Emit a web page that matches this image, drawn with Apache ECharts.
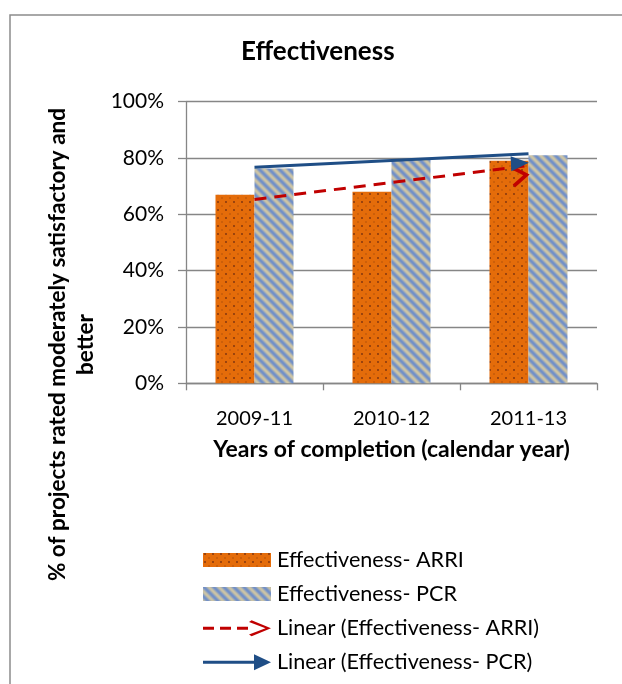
<!DOCTYPE html>
<html>
<head>
<meta charset="utf-8">
<script src="https://cdn.jsdelivr.net/npm/echarts@6/dist/echarts.min.js"></script>
<style>
html,body{margin:0;padding:0;background:#fff;}
#chart{width:622px;height:684px;}
</style>
</head>
<body>
<div id="chart"></div>
<script>
// ---- data ----
const categories = ['2009-11', '2010-12', '2011-13'];
const arriValues = [67, 68, 79];
const pcrValues = [76.3, 79.3, 81];
// linear trend lines, read at the first and last category
const arriTrend = [65.3, 77.3];
const pcrTrend = [76.7, 81.5];
const seriesNames = ['Effectiveness- ARRI', 'Effectiveness- PCR',
  'Linear (Effectiveness- ARRI)', 'Linear (Effectiveness- PCR)'];
const chartTitle = 'Effectiveness';
const xTitle = 'Years of completion (calendar year)';
const yTitle = '% of projects rated moderately satisfactory and\nbetter';

// ---- fill patterns ----
function dotPattern() {
  const c = document.createElement('canvas');
  c.width = 8; c.height = 8;
  const g = c.getContext('2d');
  g.fillStyle = '#E46C0A'; g.fillRect(0, 0, 8, 8);
  g.fillStyle = '#7a3210';
  g.beginPath(); g.arc(2, 2, 0.9, 0, Math.PI * 2); g.fill();
  g.fillStyle = 'rgba(130,55,15,0.55)';
  g.beginPath(); g.arc(6, 6, 0.8, 0, Math.PI * 2); g.fill();
  return c;
}
function stripePattern() {
  const P = 10;
  const c = document.createElement('canvas');
  c.width = P; c.height = P;
  const g = c.getContext('2d');
  const img = g.createImageData(P, P);
  const blue = [112, 143, 200], beige = [206, 197, 165];
  for (let y = 0; y < P; y++) {
    for (let x = 0; x < P; x++) {
      const t = (((x - y) % P) + P) % P / P;
      const w = 0.5 + 0.5 * Math.cos(2 * Math.PI * t);
      const i = (y * P + x) * 4;
      for (let k = 0; k < 3; k++) img.data[i + k] = Math.round(blue[k] * w + beige[k] * (1 - w));
      img.data[i + 3] = 255;
    }
  }
  g.putImageData(img, 0, 0);
  return c;
}

const FONT = 'Lato';
const AXIS_GREY = '#868686';
const chevronUp = 'path://M0,15 L10,0 L20,15 L17.2,16.8 L10,6 L2.8,16.8 Z';
const triangleUp = 'path://M0,17 L7,0 L14,17 Z';

const chart = echarts.init(document.getElementById('chart'), null, {renderer: 'canvas'});
const option = {
  animation: false,
  backgroundColor: '#ffffff',
  textStyle: {fontFamily: FONT, color: '#000'},
  title: {
    text: chartTitle,
    left: 241,
    top: 39,
    padding: 0,
    textStyle: {fontFamily: FONT, fontSize: 26, fontWeight: 'bold', color: '#000'}
  },
  graphic: [{
    type: 'rect', silent: true, z: -10,
    shape: {x: 10, y: 15, width: 700, height: 800},
    style: {fill: 'none', stroke: '#8c8c8c', lineWidth: 1.5}
  }],
  grid: {left: 186, right: 25, top: 101.7, bottom: 300.7, containLabel: false, outerBoundsMode: 'none'},
  legend: {
    orient: 'vertical',
    left: 198,
    top: 544,
    itemWidth: 68,
    itemHeight: 16,
    itemGap: 12.1,
    symbolKeepAspect: true,
    itemStyle: {borderWidth: 0},
    textStyle: {fontFamily: FONT, fontSize: 21.6, color: '#000', padding: [0, 0, 0, 1]},
    data: [
      {name: seriesNames[0], icon: 'path://M0,0h68v14h-68z'},
      {name: seriesNames[1], icon: 'path://M0,0h68v14h-68z'},
      {name: seriesNames[2], icon: 'path://M0,6.5h11v3h-11z M17,6.5h11v3h-11z M34,6.5h11v3h-11z M46,1.8 L48.6,0 L68,8 L48.6,16 L46,14.2 L62.5,8 Z'},
      {name: seriesNames[3], icon: 'path://M0,6.5 L51,6.5 L51,0 L68,8 L51,16 L51,9.5 L0,9.5 Z'}
    ]
  },
  xAxis: {
    type: 'category',
    data: categories,
    boundaryGap: true,
    axisLine: {lineStyle: {color: AXIS_GREY, width: 1.3}},
    axisTick: {show: true, alignWithLabel: false, length: 7, lineStyle: {color: AXIS_GREY, width: 1.3}},
    axisLabel: {fontFamily: FONT, fontSize: 20, color: '#000', margin: 25},
    name: xTitle,
    nameLocation: 'middle',
    nameGap: 55,
    nameTextStyle: {fontFamily: FONT, fontSize: 23, fontWeight: 'bold', color: '#000'}
  },
  yAxis: {
    type: 'value',
    min: 0, max: 100, interval: 20,
    axisLine: {show: true, lineStyle: {color: AXIS_GREY, width: 1.3}},
    axisTick: {show: true, length: 8, lineStyle: {color: AXIS_GREY, width: 1.3}},
    splitLine: {lineStyle: {color: AXIS_GREY, width: 1.3}},
    axisLabel: {formatter: '{value}%', fontFamily: FONT, fontSize: 21, color: '#000', margin: 22},
    name: yTitle,
    nameLocation: 'middle',
    nameRotate: 90,
    nameGap: 83,
    nameTextStyle: {fontFamily: FONT, fontSize: 22.5, fontWeight: 'bold', color: '#000',
      lineHeight: 28, padding: [0, 204, 0, 0]}
  },
  series: [
    {
      name: seriesNames[0], type: 'bar', data: arriValues,
      barWidth: 39, barGap: '0%',
      itemStyle: {color: {image: dotPattern(), repeat: 'repeat'}}
    },
    {
      name: seriesNames[1], type: 'bar', data: pcrValues,
      barWidth: 39, barGap: '0%',
      itemStyle: {color: {image: stripePattern(), repeat: 'repeat'}}
    },
    {
      name: seriesNames[2], type: 'line', data: [], z: 5,
      itemStyle: {color: '#C00000'}, lineStyle: {color: '#C00000'},
      markLine: {
        silent: true, animation: false,
        symbol: ['none', chevronUp], symbolSize: [22, 18], symbolOffset: [0, 9],
        label: {show: false},
        lineStyle: {color: '#C00000', width: 3, type: [12, 8]},
        data: [[{coord: [categories[0], arriTrend[0]]}, {coord: [categories[2], arriTrend[1]]}]]
      }
    },
    {
      name: seriesNames[3], type: 'line', data: [], z: 6,
      itemStyle: {color: '#1F4E86'}, lineStyle: {color: '#1F4E86'},
      markLine: {
        silent: true, animation: false,
        symbol: ['none', triangleUp], symbolSize: [15, 18], symbolOffset: [0, 9],
        label: {show: false},
        lineStyle: {color: '#1F4E86', width: 3, type: 'solid'},
        data: [[{coord: [categories[0], pcrTrend[0]]}, {coord: [categories[2], pcrTrend[1]]}]]
      }
    }
  ]
};
chart.setOption(option);
</script>
</body>
</html>
